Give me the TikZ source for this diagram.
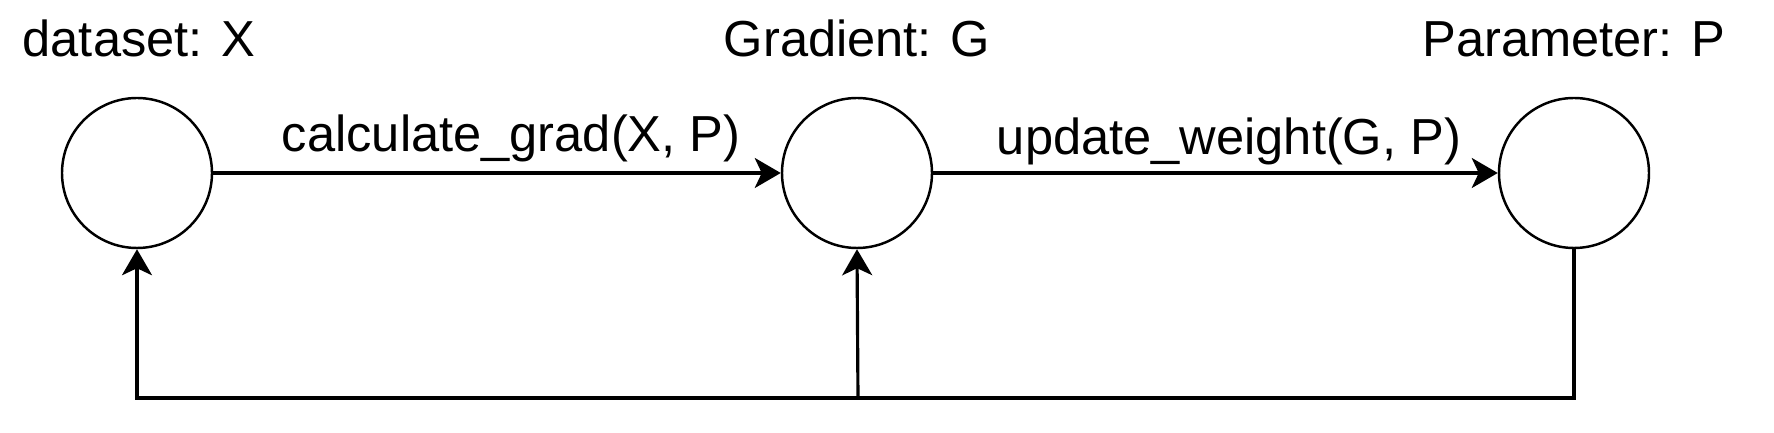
\documentclass[tikz,border=0pt]{standalone}
\usepackage{fontspec}
\setmainfont{Liberation Sans}
\usetikzlibrary{arrows.meta}

\begin{document}
\begin{tikzpicture}[
		state/.style={draw=black, line width=0.7pt, circle, minimum size=1.5cm, inner sep=0pt},
		lbl/.style={font=\fontsize{14.4}{17}\selectfont, anchor=base, inner sep=0pt},
		arr/.style={line width=0.9pt, -{Stealth[length=0.26cm, width=0.30cm, inset=0.07cm]}}
	]
		\useasboundingbox (0, 0) rectangle (17.74, 4.33);
		\node[state] (data) at (1.37, 2.60) {};
		\node[state] (grad) at (8.57, 2.60) {};
		\node[state] (param) at (15.74, 2.60) {};
		\node[lbl] (datalbl) at (1.39, 3.76) {dataset: X};
		\node[lbl] (gradlbl) at (8.57, 3.76) {Gradient: G};
		\node[lbl] (paramlbl) at (15.74, 3.76) {Parameter: P};
		\draw[arr] (data) -- node[lbl, pos=0.525, yshift=0.21cm] (calclbl) {calculate\_grad(X, P)} (grad);
		\draw[arr] (grad) -- node[lbl, pos=0.524, yshift=0.18cm] (updlbl) {update\_weight(G, P)} (param);
		\coordinate (loop) at (8.58, 0.35);
		\draw[arr] (param.south) |- (loop) -| (data.south);
		\draw[arr] (loop) -- (grad.south);
	\end{tikzpicture}
\end{document}
